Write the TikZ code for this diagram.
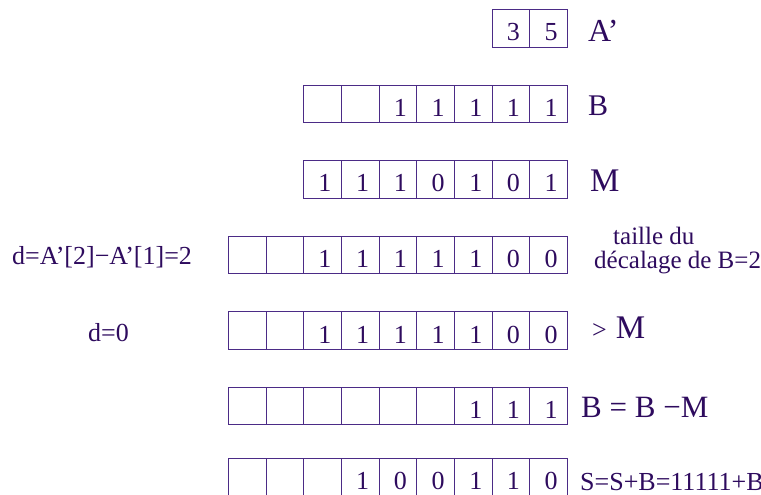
\documentclass[tikz,border=0pt]{standalone}
\usepackage{fontspec}
\setmainfont{Liberation Serif}
\usepackage{tikz}
\usetikzlibrary{positioning}
\definecolor{boxpurple}{HTML}{4B2B86}
\definecolor{inkpurple}{HTML}{2E0B5E}
\newcommand{\sz}[1]{\fontsize{#1bp}{#1bp}\selectfont}

\begin{document}
\begin{tikzpicture}[
  x=1bp,y=-1bp,
  every node/.style={font=\sz{26},text=inkpurple},
  cell/.style={rectangle,draw=boxpurple,line width=0.8bp,minimum width=37.7bp,minimum height=37.5bp,inner sep=0pt,outer sep=0pt,text height=25bp,text depth=0pt,execute at begin node=\hspace*{5bp}},
  lbl/.style={anchor=base west,inner sep=0pt},
  biglbl/.style={lbl,font=\sz{31}}
]
\useasboundingbox (0,0) rectangle (761,495);

% A'
\foreach \v [count=\i] in {3,5}
  \node[cell] (ap\i) at ({567.5-(2.5-\i)*37.7},28.5) {\v};
\node[biglbl,font=\sz{32}] (apname) at (588,42) {A'};

% B
\foreach \v [count=\i] in {{},{},1,1,1,1,1}
  \node[cell] (b\i) at ({567.5-(7.5-\i)*37.7},104) {\v};
\node[biglbl,font=\sz{30}] (bname) at (588,116) {B};

% M
\foreach \v [count=\i] in {1,1,1,0,1,0,1}
  \node[cell] (m\i) at ({567.5-(7.5-\i)*37.7},179.5) {\v};
\node[biglbl,font=\sz{33}] (mname) at (590,192) {M};

% B decale
\foreach \v [count=\i] in {{},{},1,1,1,1,1,0,0}
  \node[cell] (s\i) at ({567.5-(9.5-\i)*37.7},255) {\v};
\node[lbl] (dval) at (12,265) {d=A'[2]−A'[1]=2};
\node[lbl,align=left,font=\sz{25}] (taille) at (594,269) {\hspace*{19bp}taille du\\[-1bp]décalage de B=2};

% comparaison
\foreach \v [count=\i] in {{},{},1,1,1,1,1,0,0}
  \node[cell] (c\i) at ({567.5-(9.5-\i)*37.7},330.5) {\v};
\node[lbl] (dzero) at (88,341) {d=0};
\node[lbl] (gtm) at (592,338) {>\hspace{9bp}{\sz{33}M}};

% difference
\foreach \v [count=\i] in {{},{},{},{},{},{},1,1,1}
  \node[cell] (r\i) at ({567.5-(9.5-\i)*37.7},406) {\v};
\node[biglbl] (diff) at (581,417) {B = B −M};

% somme
\foreach \v [count=\i] in {{},{},{},1,0,0,1,1,0}
  \node[cell] (t\i) at ({567.5-(9.5-\i)*37.7},477) {\v};
\node[lbl] (somme) at (580,490) {S=S+B=11111+B};
\end{tikzpicture}
\end{document}
